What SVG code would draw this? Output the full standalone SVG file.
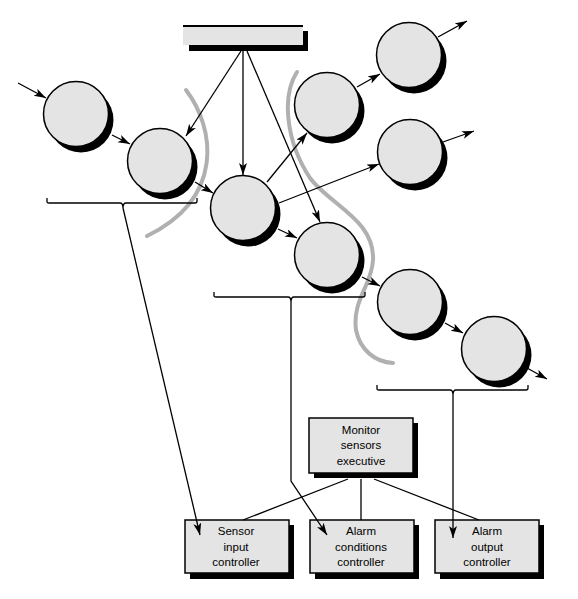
<svg xmlns="http://www.w3.org/2000/svg" width="578" height="599" viewBox="0 0 578 599">
<style>
.sh{fill:#000}
.nd{fill:#e4e4e4;stroke:#000;stroke-width:1.5}
.ln{fill:none;stroke:#000;stroke-width:1.3}
.gr{fill:none;stroke:#b0b0b0;stroke-width:4;stroke-linecap:round}
.tx{font-family:"Liberation Sans",Arial,sans-serif;font-size:11.5px;fill:#000;text-anchor:middle}
</style>
<defs>
<marker id="ah" markerUnits="userSpaceOnUse" markerWidth="14" markerHeight="10" refX="12" refY="4" orient="auto">
<path d="M0,0 L12,4 L0,8 L3,4 z" fill="#000"/>
</marker>
</defs>
<rect width="578" height="599" fill="#fff"/>
<g id="store">
<rect class="sh" x="189" y="31" width="119" height="20"/>
<rect x="183" y="27" width="120" height="18" fill="#e4e4e4"/>
<line x1="183" y1="26" x2="303" y2="26" stroke="#000" stroke-width="2"/>
</g>
<g id="c1"><circle class="sh" cx="81" cy="120" r="32.5"/><circle class="nd" cx="76" cy="114" r="32.5"/></g>
<g id="c2"><circle class="sh" cx="165" cy="167" r="32.5"/><circle class="nd" cx="160" cy="161" r="32.5"/></g>
<g id="c3"><circle class="sh" cx="248" cy="214" r="32.5"/><circle class="nd" cx="243" cy="208" r="32.5"/></g>
<g id="c4"><circle class="sh" cx="332" cy="111" r="32.5"/><circle class="nd" cx="327" cy="105" r="32.5"/></g>
<g id="c5"><circle class="sh" cx="414" cy="61" r="32.5"/><circle class="nd" cx="409" cy="55" r="32.5"/></g>
<g id="c6"><circle class="sh" cx="415" cy="158" r="32.5"/><circle class="nd" cx="410" cy="152" r="32.5"/></g>
<g id="c7"><circle class="sh" cx="332" cy="261" r="32.5"/><circle class="nd" cx="327" cy="255" r="32.5"/></g>
<g id="c8"><circle class="sh" cx="415" cy="308" r="32.5"/><circle class="nd" cx="410" cy="302" r="32.5"/></g>
<g id="c9"><circle class="sh" cx="499" cy="355" r="32.5"/><circle class="nd" cx="494" cy="349" r="32.5"/></g>
<g id="boundaries">
<path class="gr" d="M186,90 C215,128 225,198 147,236"/>
<path class="gr" d="M297,72 C282,95 285,140 310,178 C330,205 375,220 373,260 C372,285 352,300 356,330 C360,350 375,362 393,363"/>
</g>
<g id="monitor"><rect class="sh" x="314" y="423" width="104" height="55"/><rect class="nd" x="309" y="418" width="104" height="55"/>
<text class="tx" x="361" y="434">Monitor</text><text class="tx" x="361" y="449">sensors</text><text class="tx" x="361" y="465">executive</text></g>
<g id="sensor"><rect class="sh" x="190" y="525" width="104" height="54"/><rect class="nd" x="185" y="520" width="104" height="53"/>
<text class="tx" x="236" y="535">Sensor</text><text class="tx" x="236" y="551">input</text><text class="tx" x="236" y="566">controller</text></g>
<g id="conditions"><rect class="sh" x="315" y="525" width="104" height="54"/><rect class="nd" x="310" y="520" width="104" height="53"/>
<text class="tx" x="361" y="535">Alarm</text><text class="tx" x="361" y="551">conditions</text><text class="tx" x="361" y="566">controller</text></g>
<g id="output"><rect class="sh" x="440" y="525" width="104" height="54"/><rect class="nd" x="435" y="520" width="104" height="53"/>
<text class="tx" x="487" y="535">Alarm</text><text class="tx" x="487" y="551">output</text><text class="tx" x="487" y="566">controller</text></g>
<g id="connectors">
<line class="ln" x1="18" y1="83" x2="46" y2="98" marker-end="url(#ah)"/>
<line class="ln" x1="112" y1="135" x2="130" y2="144" marker-end="url(#ah)"/>
<line class="ln" x1="241" y1="51" x2="186" y2="136" marker-end="url(#ah)"/>
<line class="ln" x1="243" y1="51" x2="243" y2="175" marker-end="url(#ah)" stroke-width="1.6"/>
<line class="ln" x1="247" y1="51" x2="320" y2="222" marker-end="url(#ah)"/>
<line class="ln" x1="195" y1="182" x2="213" y2="193" marker-end="url(#ah)"/>
<line class="ln" x1="267" y1="182" x2="307" y2="133" marker-end="url(#ah)"/>
<line class="ln" x1="279" y1="203" x2="379" y2="164" marker-end="url(#ah)"/>
<line class="ln" x1="278" y1="229" x2="297" y2="238" marker-end="url(#ah)"/>
<line class="ln" x1="357" y1="87" x2="380" y2="74" marker-end="url(#ah)"/>
<line class="ln" x1="438" y1="37" x2="467" y2="21" marker-end="url(#ah)"/>
<line class="ln" x1="443" y1="142" x2="474" y2="131" marker-end="url(#ah)"/>
<line class="ln" x1="362" y1="277" x2="380" y2="286" marker-end="url(#ah)"/>
<line class="ln" x1="445" y1="323" x2="463" y2="333" marker-end="url(#ah)"/>
<line class="ln" x1="527" y1="368" x2="547" y2="379" marker-end="url(#ah)"/>
<path class="ln" d="M47,198 L47,202 Q47,203 49,203 L120,203 Q123,203 123,208 Q123,203 126,203 L195,203 Q197,203 197,201 L197,198"/>
<path class="ln" d="M214,292 L214,296 Q214,297 216,297 L288,297 Q291,297 291,302 Q291,297 294,297 L363,297 Q365,297 365,295 L365,292"/>
<path class="ln" d="M377,385 L377,389 Q377,390 379,390 L450,390 Q453,390 453,395 Q453,390 456,390 L526,390 Q528,390 528,388 L528,385"/>
<line class="ln" x1="123" y1="208" x2="200" y2="535" marker-end="url(#ah)"/>
<path class="ln" d="M291,302 L291,481 L327,535" marker-end="url(#ah)"/>
<line class="ln" x1="453" y1="395" x2="453" y2="538" marker-end="url(#ah)" stroke-width="2"/>
<line class="ln" x1="348" y1="479" x2="243" y2="520"/>
<line class="ln" x1="361" y1="479" x2="361" y2="520"/>
<line class="ln" x1="374" y1="479" x2="479" y2="520"/>
</g>
</svg>
